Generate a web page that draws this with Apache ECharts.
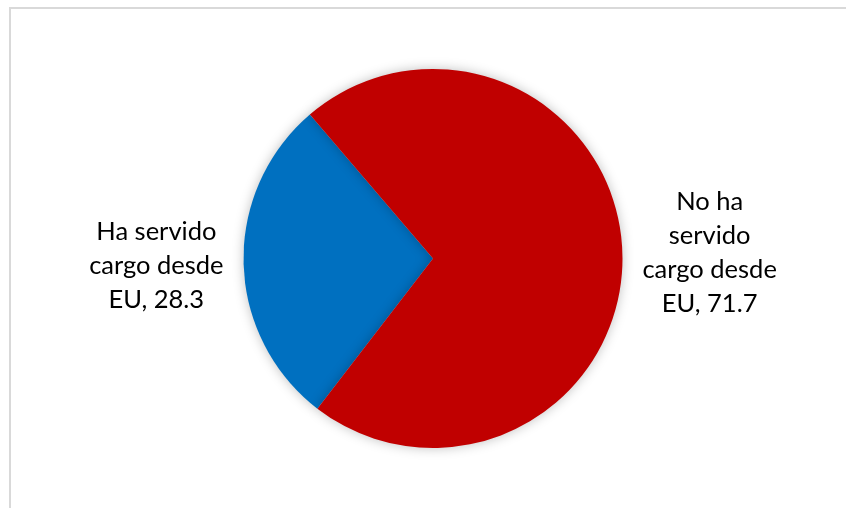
<!DOCTYPE html>
<html>
<head>
<meta charset="utf-8">
<style>
  html, body { margin: 0; padding: 0; background: #ffffff; }
  #chart { width: 846px; height: 508px; }
</style>
<script src="https://cdn.jsdelivr.net/npm/echarts@6/dist/echarts.min.js"></script>
</head>
<body>
<div id="chart"></div>
<script>
// Share of respondents who have / have not held a post since the US
const categories = ['Ha servido cargo desde EU', 'No ha servido cargo desde EU'];
const labelTexts = ['Ha servido\ncargo desde\nEU', 'No ha\nservido\ncargo desde\nEU'];
const values = [28.3, 71.7];
const colors = ['#0070C0', '#C00000'];

const chart = echarts.init(document.getElementById('chart'), null, { renderer: 'canvas' });

const data = categories.map((name, i) => ({
  name: name,
  value: values[i],
  itemStyle: { color: colors[i] },
  label: { formatter: labelTexts[i] + ', ' + values[i].toFixed(1) }
}));

chart.setOption({
  backgroundColor: '#ffffff',
  animation: false,
  graphic: [
    // chart area frame (top and left edges)
    { type: 'line', shape: { x1: 9, y1: 8, x2: 846, y2: 8 }, style: { stroke: '#d9d9d9', lineWidth: 2 } },
    { type: 'line', shape: { x1: 10, y1: 8, x2: 10, y2: 508 }, style: { stroke: '#d9d9d9', lineWidth: 2 } }
  ],
  series: [{
    type: 'pie',
    center: [433, 258.5],
    radius: [0, 189.5],
    startAngle: 232.4,
    clockwise: true,
    data: data,
    itemStyle: {
      shadowBlur: 12,
      shadowColor: 'rgba(0,0,0,0.25)',
      shadowOffsetX: 0,
      shadowOffsetY: 0
    },
    label: {
      show: true,
      position: 'outside',
      color: '#000000',
      fontFamily: 'Lato, "Open Sans", sans-serif',
      fontSize: 25.5,
      lineHeight: 34,
      distanceToLabelLine: 5
    },
    labelLine: { show: false, length: 10, length2: 5 },
    labelLayout: function (params) {
      const r = params.labelRect;
      // centre each line of the label block on the block's middle
      return {
        x: r.x + r.width / 2,
        y: r.y + r.height / 2 + (params.dataIndex === 0 ? 2 : -1),
        align: 'center',
        verticalAlign: 'middle'
      };
    },
    emphasis: { disabled: true }
  }]
});
</script>
</body>
</html>
